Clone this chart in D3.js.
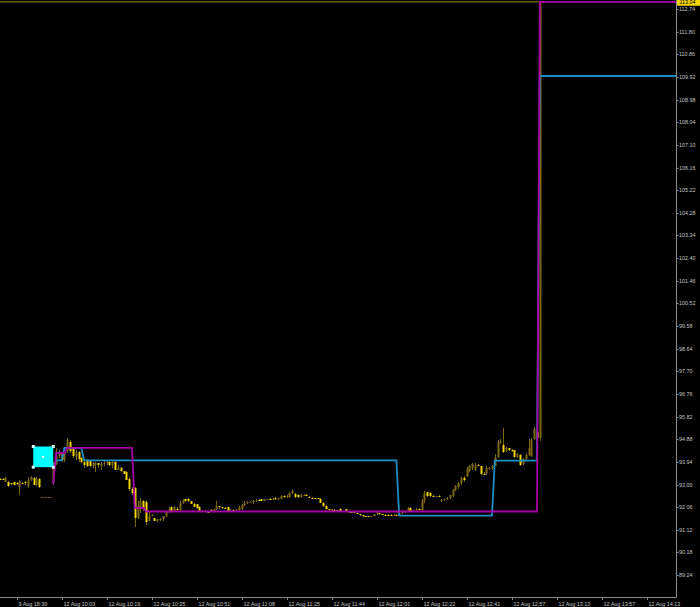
<!DOCTYPE html>
<html>
<head>
<meta charset="utf-8">
<script src="https://cdn.jsdelivr.net/npm/d3@7/dist/d3.min.js"></script>
<style>
  html, body { margin: 0; padding: 0; background: #000; }
  svg { display: block; }
</style>
</head>
<body>
<div id="chart"></div>
<script>
"use strict";

// bottom axis labels, one every 16 bars
var timeLabels = ["9 Aug 18:30", "12 Aug 10:03", "12 Aug 10:19", "12 Aug 10:35", "12 Aug 10:51",
  "12 Aug 11:08", "12 Aug 11:25", "12 Aug 11:44", "12 Aug 12:01", "12 Aug 12:22",
  "12 Aug 12:41", "12 Aug 12:57", "12 Aug 13:13", "12 Aug 13:57", "12 Aug 14:13"];

var priceTicks = [89.24, 90.18, 91.12, 92.06, 93.00, 93.94, 94.88, 95.82, 96.76, 97.70,
  98.64, 99.58, 100.52, 101.46, 102.40, 103.34, 104.28, 105.22, 106.16, 107.10,
  108.04, 108.98, 109.92, 110.86, 111.80, 112.74];

// M1 bars [open, high, low, close]
var bars = [
  [93.24,93.28,93.20,93.22],[93.22,93.26,93.18,93.20],[93.12,93.32,93.10,93.28],[93.12,93.15,92.90,92.95],
  [93.05,93.08,93.00,93.04],[93.10,93.12,92.98,93.00],[93.05,93.10,93.00,93.02],[92.90,93.20,92.57,93.10],
  [93.08,93.12,93.02,93.06],[93.10,93.15,93.00,93.05],[92.95,93.32,92.86,93.20],[93.20,93.35,93.15,93.30],
  [93.27,93.30,92.98,93.00],[93.00,93.32,92.95,93.25],[93.25,93.28,92.85,92.88],
  [92.48,92.48,92.48,92.48],[92.48,92.48,92.48,92.48],[92.48,92.48,92.48,92.48],[92.48,92.48,92.48,92.48],
  [93.05,93.95,93.00,93.85],[93.85,94.50,93.80,94.20],[94.20,94.45,94.10,94.30],[94.25,94.30,93.95,94.00],
  [94.00,94.55,93.95,94.45],[94.40,94.93,94.30,94.85],[94.75,94.85,94.30,94.40],[94.50,94.55,94.10,94.20],
  [94.15,94.45,94.00,94.35],[94.35,94.40,93.95,94.05],[94.10,94.15,93.90,93.95],[93.95,94.05,93.70,93.80],
  [94.00,94.05,93.72,93.75],[93.98,94.02,93.72,93.75],[93.75,93.95,93.70,93.90],[93.80,93.95,93.50,93.88],
  [93.88,93.90,93.70,93.80],[93.75,93.92,93.60,93.85],[93.85,93.98,93.75,93.90],[93.90,94.00,93.80,93.95],
  [93.95,93.98,93.75,93.80],[93.80,94.00,93.70,93.95],[93.92,94.00,93.60,93.62],[93.62,93.80,93.60,93.70],
  [93.70,93.72,93.50,93.55],[93.55,93.58,93.42,93.45],[93.50,93.55,93.18,93.20],[93.25,93.30,92.75,92.80],
  [92.80,92.90,92.55,92.65],[92.85,92.90,91.24,91.60],[91.60,92.30,91.55,92.10],[92.00,92.45,91.80,92.30],
  [92.30,92.35,91.90,92.00],[92.28,92.35,91.32,91.45],[91.50,91.85,91.50,91.70],[91.72,91.78,91.68,91.75],
  [91.60,91.62,91.48,91.50],[91.50,91.58,91.45,91.55],[91.52,91.62,91.48,91.58],[91.55,91.70,91.50,91.68],
  [91.68,91.90,91.65,91.85],[91.85,92.05,91.80,92.00],[92.05,92.10,91.85,91.90],[91.90,92.10,91.90,92.05],
  [92.00,92.05,91.90,91.95],[91.95,92.30,91.90,92.25],[92.25,92.38,92.20,92.32],[92.38,92.42,92.28,92.30],
  [92.42,92.46,92.28,92.30],[92.30,92.32,92.18,92.20],[92.20,92.22,92.05,92.08],[92.18,92.20,92.00,92.03],
  [92.05,92.10,91.85,91.88],[91.90,91.95,91.85,91.92],[91.92,91.95,91.86,91.90],[91.88,91.90,91.85,91.87],
  [91.95,91.98,91.86,91.88],[91.88,92.00,91.85,91.98],[91.98,92.30,91.95,92.10],[92.10,92.12,92.00,92.05],
  [92.05,92.08,92.00,92.02],[92.02,92.05,91.98,92.00],[92.05,92.06,91.88,91.90],[91.90,92.00,91.88,91.96],
  [91.95,91.98,91.90,91.93],[91.93,92.00,91.90,91.98],[91.95,92.10,91.90,92.08],[92.00,92.20,91.95,92.15],
  [92.15,92.30,92.12,92.25],[92.25,92.30,92.20,92.27],[92.27,92.32,92.22,92.28],[92.28,92.35,92.20,92.30],
  [92.30,92.38,92.28,92.35],[92.35,92.38,92.30,92.33],[92.38,92.40,92.30,92.32],[92.32,92.40,92.30,92.38],
  [92.38,92.42,92.35,92.40],[92.40,92.45,92.36,92.38],[92.38,92.45,92.35,92.42],[92.45,92.47,92.36,92.38],
  [92.38,92.46,92.36,92.44],[92.42,92.55,92.40,92.52],[92.52,92.56,92.46,92.50],[92.50,92.55,92.45,92.53],
  [92.48,92.70,92.45,92.65],[92.65,92.80,92.60,92.75],[92.60,92.65,92.45,92.50],[92.58,92.60,92.45,92.48],
  [92.48,92.60,92.45,92.55],[92.55,92.60,92.52,92.57],[92.57,92.60,92.52,92.55],[92.50,92.52,92.44,92.46],
  [92.46,92.48,92.42,92.44],[92.44,92.46,92.40,92.43],[92.43,92.46,92.38,92.42],[92.42,92.44,92.22,92.25],
  [92.25,92.28,92.08,92.10],[92.12,92.15,91.95,91.98],[91.98,92.00,91.90,91.95],[91.95,92.00,91.90,91.94],
  [91.95,91.98,91.90,91.93],[91.93,91.96,91.88,91.90],[92.00,92.02,91.86,91.88],[91.88,91.92,91.86,91.90],
  [91.98,92.00,91.84,91.86],[91.86,91.88,91.84,91.87],[91.87,91.88,91.82,91.84],[91.84,91.85,91.80,91.81],
  [91.81,91.82,91.76,91.78],[91.78,91.79,91.70,91.72],[91.72,91.74,91.67,91.69],[91.69,91.70,91.66,91.68],
  [91.68,91.69,91.65,91.66],[91.66,91.70,91.65,91.69],[91.69,91.78,91.68,91.76],[91.76,91.86,91.74,91.82],
  [91.80,91.82,91.74,91.76],[91.76,91.78,91.73,91.75],[91.75,91.78,91.72,91.74],[91.74,91.77,91.71,91.73],
  [91.73,91.76,91.70,91.72],[91.72,91.78,91.68,91.75],[91.75,91.78,91.70,91.73],[91.73,91.85,91.70,91.80],
  [91.80,91.95,91.76,91.90],[91.90,91.95,91.82,91.88],[91.88,92.05,91.86,92.02],[92.02,92.05,91.88,91.90],
  [91.90,91.96,91.88,91.94],[91.94,92.02,91.92,92.00],[92.00,92.04,91.90,91.94],[91.94,92.38,91.92,92.30],
  [92.30,92.72,92.25,92.65],[92.68,92.70,92.50,92.52],[92.66,92.70,92.50,92.52],[92.52,92.56,92.48,92.50],
  [92.50,92.54,92.48,92.52],[92.52,92.55,92.48,92.50],[92.32,92.38,92.26,92.35],[92.35,92.42,92.30,92.38],
  [92.38,92.50,92.35,92.46],[92.46,92.58,92.42,92.55],[92.52,92.82,92.50,92.78],[92.78,93.00,92.72,92.95],
  [92.90,93.12,92.80,93.08],[93.05,93.32,93.00,93.28],[93.28,93.35,93.10,93.20],[93.35,93.72,93.30,93.65],
  [93.55,93.80,93.50,93.75],[93.70,93.90,93.62,93.85],[93.60,93.88,93.55,93.80],[93.80,93.85,93.75,93.78],
  [93.75,93.78,93.40,93.45],[93.45,93.50,93.40,93.44],[93.45,93.75,93.40,93.68],[93.68,93.74,93.60,93.70],
  [93.70,93.82,93.62,93.78],[93.78,94.25,93.75,94.15],[94.15,94.85,94.10,94.75],[94.75,94.90,94.70,94.82],
  [94.64,95.35,94.30,94.35],[94.38,94.55,94.34,94.50],[94.50,94.52,94.40,94.42],[94.42,94.48,94.35,94.40],
  [94.43,94.45,94.12,94.15],[94.15,94.30,94.10,94.25],[94.22,94.25,93.75,93.82],[93.85,94.10,93.82,94.05],
  [94.05,94.30,94.00,94.22],[94.22,94.90,94.20,94.50],[94.20,94.93,94.14,94.85],[94.88,95.40,94.85,95.30],
  [95.18,95.25,94.85,94.93],[94.93,113.04,94.80,113.04]
];

var lastBar = 241;          // bars keep printing flat after the spike
var bidPrice = 113.04;

// indicator step lines, vertices as [bar, price]
var magentaLine = [[19,93.02],[20,94.31],[23,94.31],[24,94.52],[47,94.52],[48,92.03],[51,92.03],
  [52,91.88],[191,91.88],[192,113.04],[241,113.04]];
var cyanLine = [[19,93.69],[20,94.00],[22,94.00],[23,94.52],[29,94.52],[30,94.00],[141,94.00],
  [142,91.71],[175,91.71],[176,93.99],[191,93.99],[192,109.96],[241,109.96]];

// selected rectangle object: [bar from, bar to, price top, price bottom]
var boxObject = [11.9, 19.0, 94.58, 93.72];

var W = 700, H = 607;
var plotW = 676.5, plotH = 597.5;

var bullColor = "#7c6811", bearColor = "#f2d400", wickColor = "#7c6811";

var svg = d3.select("#chart").append("svg")
  .attr("width", W).attr("height", H)
  .style("background", "#000");

svg.append("defs").append("clipPath").attr("id", "plotclip")
  .append("rect").attr("x", 0).attr("y", 0).attr("width", plotW).attr("height", plotH);

var x = d3.scaleLinear().domain([0, 240]).range([-0.2, 674.8]);
var y = d3.scaleLinear().domain([88.29, 113.114]).range([598, 0]);

var plot = svg.append("g").attr("clip-path", "url(#plotclip)");

// bid line
plot.append("line")
  .attr("x1", 0).attr("x2", plotW)
  .attr("y1", y(bidPrice)).attr("y2", y(bidPrice))
  .attr("stroke", "#6a5a14").attr("stroke-width", 1.5);

// candles
var candle = plot.append("g").selectAll("g")
  .data(bars)
  .enter().append("g")
  .attr("transform", function (d, i) { return "translate(" + Math.round(x(i)) + ",0)"; });

candle.append("rect")
  .attr("x", 0).attr("width", 1)
  .attr("y", function (d) { return Math.round(y(d[1])); })
  .attr("height", function (d) { return Math.max(1, Math.round(y(d[2])) - Math.round(y(d[1]))); })
  .attr("fill", wickColor);

candle.append("rect")
  .attr("x", -0.5).attr("width", 2)
  .attr("y", function (d) { return Math.round(y(Math.max(d[0], d[3]))); })
  .attr("height", function (d) {
    return Math.max(1, Math.round(y(Math.min(d[0], d[3]))) - Math.round(y(Math.max(d[0], d[3]))));
  })
  .attr("fill", function (d) { return d[3] >= d[0] ? bullColor : bearColor; });

var line = d3.line()
  .x(function (d) { return x(d[0]); })
  .y(function (d) { return y(d[1]); });

plot.append("path").datum(cyanLine)
  .attr("d", line).attr("fill", "none")
  .attr("stroke", "#1c8fc2").attr("stroke-width", 1.8);

plot.append("path").datum(magentaLine)
  .attr("d", line).attr("fill", "none")
  .attr("stroke", "#a600a6").attr("stroke-width", 1.8);

// rectangle object with its handles
var bx0 = x(boxObject[0]), bx1 = x(boxObject[1]);
var by0 = y(boxObject[2]), by1 = y(boxObject[3]);
plot.append("rect")
  .attr("x", bx0).attr("y", by0)
  .attr("width", bx1 - bx0).attr("height", by1 - by0)
  .attr("fill", "#00ffff");
[[bx0, by0], [bx1, by0], [bx0, by1], [bx1, by1]].forEach(function (p) {
  plot.append("rect")
    .attr("x", p[0] - 1.5).attr("y", p[1] - 1.5)
    .attr("width", 3).attr("height", 3)
    .attr("fill", "#d8ffff");
});
plot.append("rect")
  .attr("x", (bx0 + bx1) / 2 - 1).attr("y", (by0 + by1) / 2 - 1)
  .attr("width", 2).attr("height", 2)
  .attr("fill", "#ffffff");

// axes frame
var axisColor = "#8a8a8a", textColor = "#c4c4c4";
var font = "'Liberation Sans', Arial, sans-serif";

svg.append("line")
  .attr("x1", plotW).attr("x2", plotW).attr("y1", 0).attr("y2", plotH)
  .attr("stroke", axisColor).attr("stroke-width", 1);
svg.append("line")
  .attr("x1", 0).attr("x2", plotW).attr("y1", plotH).attr("y2", plotH)
  .attr("stroke", axisColor).attr("stroke-width", 1);

// price axis
var yTick = svg.append("g").selectAll("g")
  .data(priceTicks)
  .enter().append("g")
  .attr("transform", function (d) { return "translate(" + plotW + "," + (Math.round(y(d)) + 0.5) + ")"; });
yTick.append("line").attr("x1", 0).attr("x2", 2).attr("stroke", axisColor);
yTick.append("text")
  .attr("x", 2.5).attr("dy", "0.35em")
  .attr("fill", textColor)
  .style("font-family", font).style("font-size", "5.4px")
  .text(function (d) { return d.toFixed(2); });

// time axis
var xTick = svg.append("g").selectAll("g")
  .data(timeLabels)
  .enter().append("g")
  .attr("transform", function (d, i) { return "translate(" + (Math.round(x(6 + 16 * i)) + 0.5) + "," + plotH + ")"; });
xTick.append("line").attr("y1", 0).attr("y2", 2.5).attr("stroke", axisColor);
xTick.append("text")
  .attr("x", 1).attr("y", 8)
  .attr("fill", textColor)
  .style("font-family", font).style("font-size", "5.4px")
  .text(function (d) { return d; });

// current price label
var bidY = y(bidPrice);
svg.append("rect")
  .attr("x", plotW + 0.5).attr("y", bidY - 4.5)
  .attr("width", 23).attr("height", 8.5)
  .attr("fill", "#f2d400");
svg.append("text")
  .attr("x", plotW + 3).attr("y", bidY).attr("dy", "0.35em")
  .attr("fill", "#000")
  .style("font-family", font).style("font-size", "5.4px")
  .text(bidPrice.toFixed(2));
</script>
</body>
</html>
